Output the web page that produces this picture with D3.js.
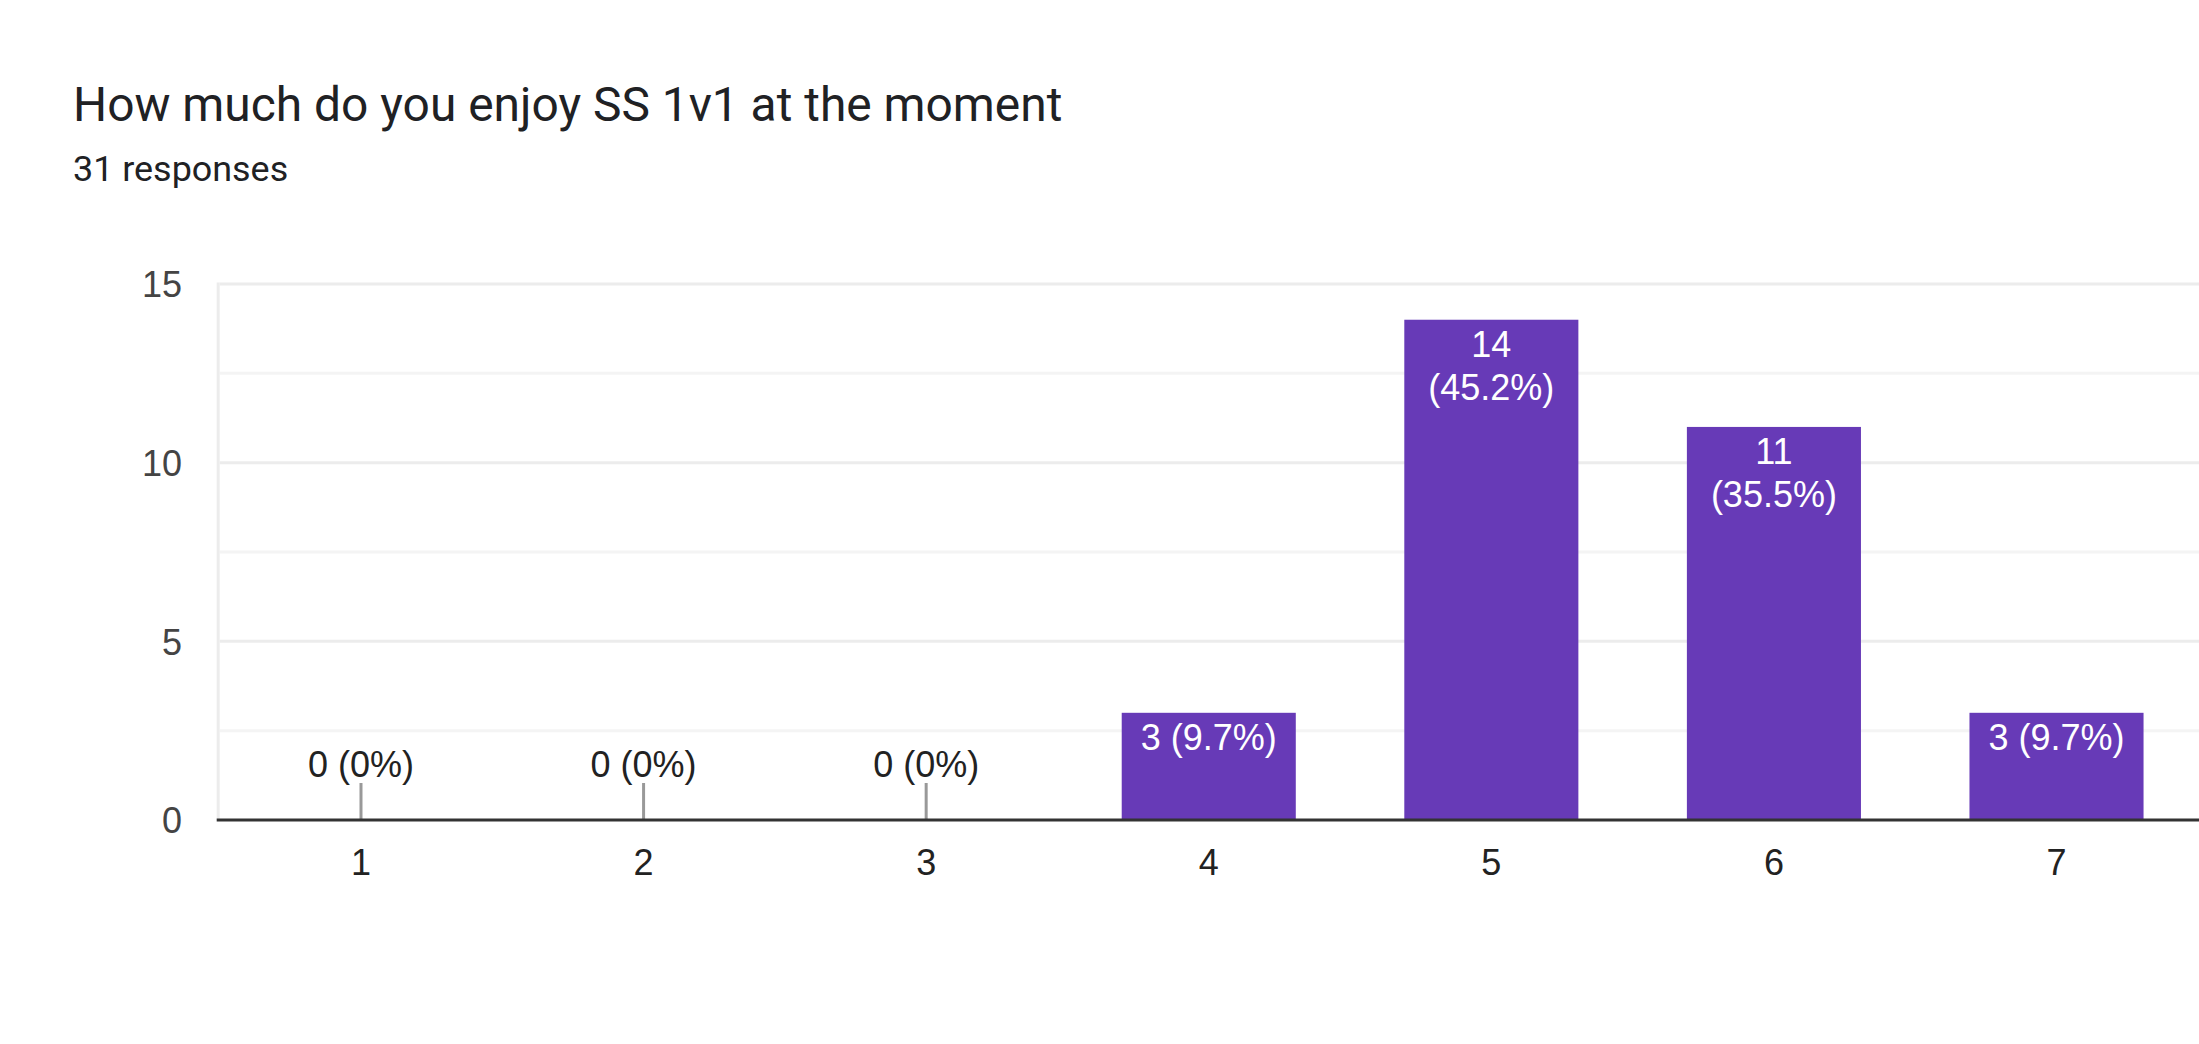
<!DOCTYPE html>
<html>
<head>
<meta charset="utf-8">
<script src="https://cdn.jsdelivr.net/npm/d3@7"></script>
<style>
  html, body { margin: 0; padding: 0; background: #fff; }
  svg { display: block; }
  text { font-family: Roboto, "Noto Sans", Arial, sans-serif; }
  text.lbl { font-family: "Liberation Sans", Arial, sans-serif; }
</style>
</head>
<body>
<svg id="chart" width="2199" height="1044"></svg>
<script>
// ---- data ----
const titleText = "How much do you enjoy SS 1v1 at the moment";
const subtitleText = "31 responses";
const categories = ["1", "2", "3", "4", "5", "6", "7"];
const counts = [0, 0, 0, 3, 14, 11, 3];
const percentLabels = ["0%", "0%", "0%", "9.7%", "45.2%", "35.5%", "9.7%"];
const yTicks = [0, 5, 10, 15];
const yGridMinor = [2.5, 7.5, 12.5];

(function () {
// ---- layout ----
const W = 2199, H = 1044;
const svg = d3.select("#chart");
const pLeft = 219.7, pRight = 2197.8, pTop = 284, pBottom = 820;

const x = d3.scaleBand().domain(categories).range([pLeft, pRight])
  .paddingInner(0.384).paddingOuter(0.192);
const y = d3.scaleLinear().domain([0, 15]).range([pBottom, pTop]);

svg.append("rect").attr("width", W).attr("height", H).attr("fill", "#fff");

// title
svg.append("text").attr("x", 73).attr("y", 121)
  .attr("font-size", 47.9).attr("fill", "#202124").text(titleText);
svg.append("text").attr("x", 73).attr("y", 181)
  .attr("font-size", 35.9).attr("fill", "#202124").text(subtitleText);

// gridlines
svg.append("g").selectAll("line").data(yGridMinor).join("line")
  .attr("x1", pLeft).attr("x2", W).attr("y1", d => y(d)).attr("y2", d => y(d))
  .attr("stroke", "#f4f4f4").attr("stroke-width", 3);
svg.append("g").selectAll("line").data(yTicks.filter(d => d > 0)).join("line")
  .attr("x1", pLeft).attr("x2", W).attr("y1", d => y(d)).attr("y2", d => y(d))
  .attr("stroke", "#ececec").attr("stroke-width", 3);
// left vertical line
svg.append("line").attr("x1", pLeft - 1.5).attr("x2", pLeft - 1.5)
  .attr("y1", y(15) - 1.5).attr("y2", pBottom)
  .attr("stroke", "#ececec").attr("stroke-width", 3);

// y axis labels
const yAxis = d3.axisLeft(y).tickValues(yTicks).tickSize(0).tickPadding(0);
const yg = svg.append("g").attr("transform", `translate(182,0)`).call(yAxis);
yg.select(".domain").remove();
yg.selectAll("text").attr("class", "lbl").attr("font-size", 36).attr("fill", "#444")
  .attr("dy", "0.36em");

// bars
svg.append("g").selectAll("rect").data(counts).join("rect")
  .attr("x", (d, i) => x(categories[i]))
  .attr("width", x.bandwidth())
  .attr("y", d => y(d))
  .attr("height", d => pBottom - y(d))
  .attr("fill", "#673ab7");

// zero ticks
svg.append("g").selectAll("line").data(counts.map((d, i) => ({d, i})).filter(o => o.d === 0)).join("line")
  .attr("x1", o => x(categories[o.i]) + x.bandwidth() / 2)
  .attr("x2", o => x(categories[o.i]) + x.bandwidth() / 2)
  .attr("y1", pBottom - 37).attr("y2", pBottom)
  .attr("stroke", "#999").attr("stroke-width", 3);

// baseline
svg.append("line").attr("x1", pLeft - 3).attr("x2", W)
  .attr("y1", pBottom).attr("y2", pBottom)
  .attr("stroke", "#333").attr("stroke-width", 3);

// x axis labels
const xAxis = d3.axisBottom(x).tickSize(0).tickPadding(0);
const xg = svg.append("g").attr("transform", `translate(0,${pBottom})`).call(xAxis);
xg.select(".domain").remove();
xg.selectAll("text").attr("class", "lbl").attr("font-size", 36).attr("fill", "#222")
  .attr("y", 55).attr("dy", 0);

// value labels
const labelG = svg.append("g");
counts.forEach((d, i) => {
  const cx = x(categories[i]) + x.bandwidth() / 2;
  const full = `${d} (${percentLabels[i]})`;
  if (d === 0) {
    labelG.append("text").attr("class", "lbl").attr("x", cx).attr("y", pBottom - 43)
      .attr("text-anchor", "middle").attr("font-size", 36).attr("fill", "#222").text(full);
    return;
  }
  const t = labelG.append("text").attr("class", "lbl").attr("x", cx).attr("y", y(d) + 37)
    .attr("text-anchor", "middle").attr("font-size", 36).attr("fill", "#fff").text(full);
  if (t.node().getComputedTextLength() > x.bandwidth() - 10) {
    t.text(null);
    t.append("tspan").attr("x", cx).text(`${d}`);
    t.append("tspan").attr("x", cx).attr("dy", 43).text(`(${percentLabels[i]})`);
  }
});
})();
</script>
</body>
</html>
